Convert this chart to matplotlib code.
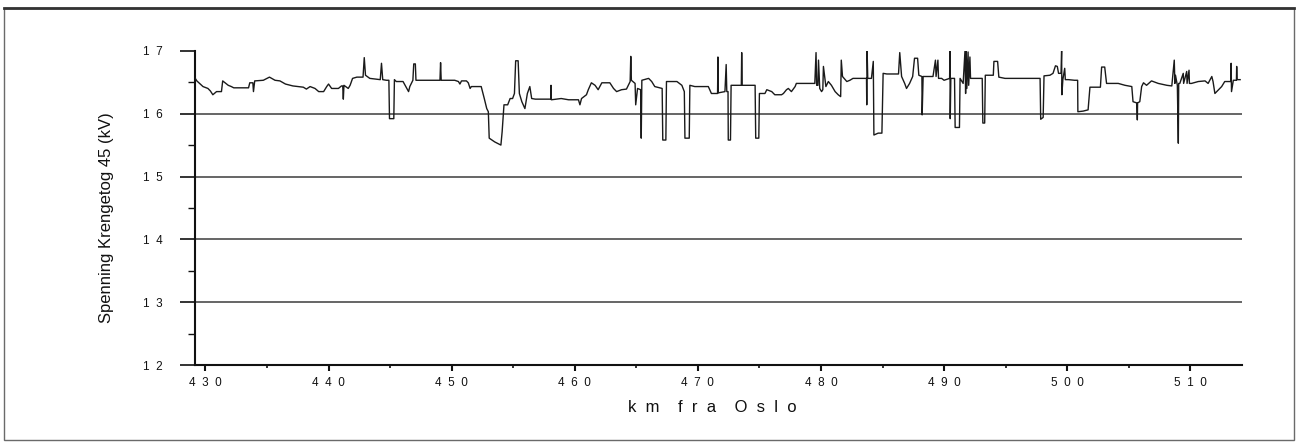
import matplotlib
matplotlib.use('Agg')
import matplotlib.pyplot as plt
from matplotlib.patches import Rectangle

plt.rcParams['font.family'] = ['Liberation Sans', 'DejaVu Sans']

# ── data (km from Oslo, voltage in kV) ───────────────────────────────────────
km = [
    # 429 - 450
    429.11, 429.3, 429.8, 430.2, 430.4, 430.6, 430.9, 431.3, 431.4, 431.85,
    432.1, 432.3, 433.5, 433.6, 433.85, 433.9, 434.0, 434.7, 435.2, 435.65,
    436.05, 436.5, 437.1, 437.95, 438.2, 438.5, 438.9, 439.2, 439.6, 439.85,
    440.0, 440.25, 440.8, 441.05, 441.15, 441.2, 441.25, 441.6, 441.75, 441.95,
    442.3, 442.8, 442.9, 443.0, 443.35, 444.2, 444.3, 444.4, 444.7, 444.9,
    444.95, 445.3, 445.35, 445.5, 446.05, 446.5, 446.6, 446.85, 446.92, 447.05,
    447.1, 449.05, 449.1, 449.15, 450.25,
    # 450 - 471
    450.55, 450.67, 450.8, 451.2, 451.35, 451.5, 451.6, 452.4, 452.65, 452.85,
    452.98, 453.05, 453.5, 454.0, 454.1, 454.25, 454.55, 454.75, 454.95, 455.1,
    455.2, 455.4, 455.5, 455.7, 455.95, 456.15, 456.35, 456.5, 456.8, 458.05,
    458.07, 458.1, 458.9, 459.5, 460.3, 460.42, 460.55, 460.95, 461.1, 461.35,
    461.65, 461.9, 462.2, 462.85, 463.15, 463.4, 463.8, 464.2, 464.5, 464.55,
    464.6, 464.9, 464.95, 465.1, 465.35, 465.4, 465.45, 466.0, 466.25, 466.5,
    467.1, 467.15, 467.4, 467.45, 468.3, 468.7, 468.9, 468.95, 469.3, 469.35,
    469.75, 470.85, 471.1, 471.6,
    # 471 - 493
    471.63, 471.66, 472.2, 472.3, 472.35, 472.45, 472.47, 472.65, 472.7, 473.53,
    473.56, 473.6, 474.65, 474.7, 474.95, 475.0, 475.45, 475.6, 476.0, 476.25,
    476.8, 476.95, 477.2, 477.35, 477.6, 477.9, 478.0, 479.5, 479.6, 479.65,
    479.75, 479.8, 479.9, 480.05, 480.15, 480.2, 480.4, 480.6, 480.85, 481.15,
    481.4, 481.6, 481.65, 481.75, 482.1, 482.35, 482.6, 483.7, 483.72, 483.75,
    483.8, 484.1, 484.25, 484.3, 484.65, 484.95, 485.05, 485.35, 486.3, 486.4,
    486.55, 486.8, 486.95, 487.2, 487.45, 487.6, 487.85, 487.95, 488.2, 488.22,
    488.3, 489.1, 489.3, 489.35, 489.5, 489.55, 489.8, 490.0, 490.45, 490.48,
    490.5, 490.55, 490.85, 490.9, 491.25, 491.3, 491.55, 491.7, 491.75, 491.8,
    491.85, 491.95, 492.0, 492.1, 492.15, 493.1, 493.15, 493.3, 493.35,
    # 494 - 514
    494.0, 494.05, 494.35, 494.45, 494.95, 497.8, 497.85, 498.05, 498.12, 498.6,
    498.85, 499.05, 499.2, 499.3, 499.5, 499.55, 499.57, 499.65, 499.8, 499.85,
    500.1, 500.6, 500.85, 500.87, 501.3, 501.7, 501.85, 502.7, 502.8, 503.05,
    503.2, 504.15, 504.7, 505.25, 505.35, 505.65, 505.7, 505.72, 505.9, 506.05,
    506.2, 506.45, 506.85, 507.4, 508.1, 508.5, 508.7, 508.75, 508.8, 508.95,
    509.03, 509.06, 509.15, 509.43, 509.46, 509.71, 509.74, 509.9, 509.93, 510.1,
    510.65, 511.2, 511.45, 511.75, 511.85, 512.0, 512.3, 512.55, 512.8, 513.3,
    513.32, 513.35, 513.5, 513.75, 513.77, 513.8, 514.05,
]

kv = [
    # 429 - 450
    16.58, 16.52, 16.43, 16.40, 16.36, 16.30, 16.35, 16.35, 16.52, 16.45,
    16.43, 16.41, 16.41, 16.49, 16.49, 16.35, 16.52, 16.53, 16.58, 16.53,
    16.52, 16.47, 16.44, 16.42, 16.39, 16.43, 16.40, 16.35, 16.35, 16.43,
    16.47, 16.40, 16.40, 16.44, 16.44, 16.23, 16.45, 16.40, 16.45, 16.56,
    16.58, 16.58, 16.89, 16.61, 16.56, 16.54, 16.80, 16.54, 16.53, 16.53,
    15.92, 15.92, 16.54, 16.51, 16.51, 16.35, 16.43, 16.53, 16.79, 16.79,
    16.53, 16.53, 16.81, 16.53, 16.53,
    # 450 - 471
    16.51, 16.47, 16.52, 16.52, 16.49, 16.40, 16.43, 16.43, 16.24, 16.08,
    16.03, 15.61, 15.55, 15.50, 15.71, 16.14, 16.14, 16.24, 16.24, 16.32,
    16.84, 16.84, 16.32, 16.19, 16.08, 16.32, 16.43, 16.24, 16.23, 16.23,
    16.45, 16.22, 16.24, 16.22, 16.22, 16.14, 16.24, 16.30, 16.38, 16.49,
    16.45, 16.38, 16.49, 16.49, 16.40, 16.35, 16.38, 16.39, 16.51, 16.91,
    16.53, 16.48, 16.14, 16.40, 16.38, 15.61, 16.53, 16.56, 16.51, 16.43,
    16.40, 15.58, 15.58, 16.51, 16.51, 16.45, 16.35, 15.61, 15.61, 16.45,
    16.43, 16.43, 16.32, 16.32,
    # 471 - 493
    16.90, 16.33, 16.35, 16.78, 16.35, 16.35, 15.58, 15.58, 16.45, 16.45,
    16.97, 16.45, 16.45, 15.61, 15.61, 16.32, 16.32, 16.38, 16.35, 16.30,
    16.30, 16.32, 16.38, 16.40, 16.35, 16.43, 16.48, 16.48, 16.97, 16.45,
    16.45, 16.85, 16.40, 16.35, 16.38, 16.75, 16.43, 16.51, 16.45, 16.35,
    16.30, 16.27, 16.85, 16.59, 16.51, 16.53, 16.56, 16.56, 16.14, 17.00,
    16.56, 16.56, 16.83, 15.66, 15.69, 15.69, 16.64, 16.63, 16.63, 16.97,
    16.59, 16.48, 16.40, 16.48, 16.59, 16.88, 16.88, 16.61, 16.59, 15.98,
    16.59, 16.59, 16.85, 16.59, 16.85, 16.56, 16.56, 16.53, 16.56, 17.00,
    15.92, 16.56, 16.56, 15.78, 15.78, 16.56, 16.48, 17.00, 16.32, 17.00,
    16.40, 16.98, 16.45, 16.90, 16.56, 16.56, 15.85, 15.85, 16.61,
    # 494 - 514
    16.61, 16.83, 16.83, 16.58, 16.56, 16.56, 15.91, 15.94, 16.60, 16.61,
    16.64, 16.76, 16.75, 16.64, 16.64, 17.00, 16.30, 16.54, 16.72, 16.54,
    16.54, 16.53, 16.53, 16.03, 16.04, 16.06, 16.42, 16.42, 16.74, 16.74,
    16.48, 16.48, 16.45, 16.43, 16.19, 16.17, 15.90, 16.17, 16.19, 16.43,
    16.49, 16.45, 16.52, 16.48, 16.45, 16.44, 16.85, 16.48, 16.61, 16.45,
    15.53, 16.48, 16.48, 16.64, 16.48, 16.67, 16.48, 16.69, 16.48, 16.48,
    16.51, 16.52, 16.48, 16.59, 16.51, 16.32, 16.38, 16.43, 16.51, 16.51,
    16.80, 16.35, 16.53, 16.53, 16.75, 16.54, 16.54,
]

x_ticks = [430, 440, 450, 460, 470, 480, 490, 500, 510]
x_minor = [435, 445, 455, 465, 475, 485, 495, 505]
y_ticks = [12, 13, 14, 15, 16, 17]
y_minor = [12.5, 13.5, 14.5, 15.5, 16.5]
grid_levels = [13, 14, 15, 16]

y_title = 'Spenning Krengetog 45 (kV)'
x_title = 'k  m    f  r  a    O  s  l  o'


def spaced(v):
    # the scan prints tick numbers with gaps between the digits
    return '  '.join(str(v))


W, H = 1298, 446
fig = plt.figure(figsize=(W / 100, H / 100), dpi=100)
fig.patch.set_facecolor('white')

# outer frame of the scanned page
fig.add_artist(Rectangle((4 / W, 6 / H), 1290 / W, 432 / H,
                         transform=fig.transFigure, fill=False,
                         edgecolor='#6a6a6a', linewidth=1.0))
fig.add_artist(plt.Line2D([4 / W, 1294 / W], [1 - 8 / H, 1 - 8 / H],
                          transform=fig.transFigure, color='#333333',
                          linewidth=2.0))

ax = fig.add_axes([194.5 / W, 1 - 365.3 / H,
                   (1241.6 - 194.5) / W, (365.3 - 50.7) / H])

for g in grid_levels:
    ax.axhline(g, color='#3c3c3c', linewidth=1.1, zorder=1)

ax.plot(km, kv, color='#1a1a1a', linewidth=1.0, zorder=3)

ax.set_xlim(429.11, 514.17)
ax.set_ylim(12, 17)

for side in ['top', 'right']:
    ax.spines[side].set_visible(False)
for side in ['left', 'bottom']:
    ax.spines[side].set_linewidth(1.5)
    ax.spines[side].set_color('#111111')

ax.set_xticks(x_ticks, [spaced(v) for v in x_ticks])
ax.set_xticks(x_minor, minor=True)
ax.set_yticks(y_ticks, [spaced(v) for v in y_ticks])
ax.set_yticks(y_minor, minor=True)

ax.tick_params(axis='both', which='both', direction='out', colors='#111111',
               labelsize=8.5)
ax.tick_params(axis='y', which='major', length=11, width=1.2, pad=12)
ax.tick_params(axis='y', which='minor', length=5, width=1.0)
ax.tick_params(axis='x', which='major', length=4.5, width=1.5, pad=4)
ax.tick_params(axis='x', which='minor', length=2.5, width=1.2)

fig.text(107 / W, 1 - 218 / H, y_title, rotation=90, ha='center',
         va='center', fontsize=12, color='#111111')
fig.text(712 / W, 1 - 408 / H, x_title, ha='center', va='center',
         fontsize=12, color='#111111')

fig.savefig('out.png', dpi=100)
